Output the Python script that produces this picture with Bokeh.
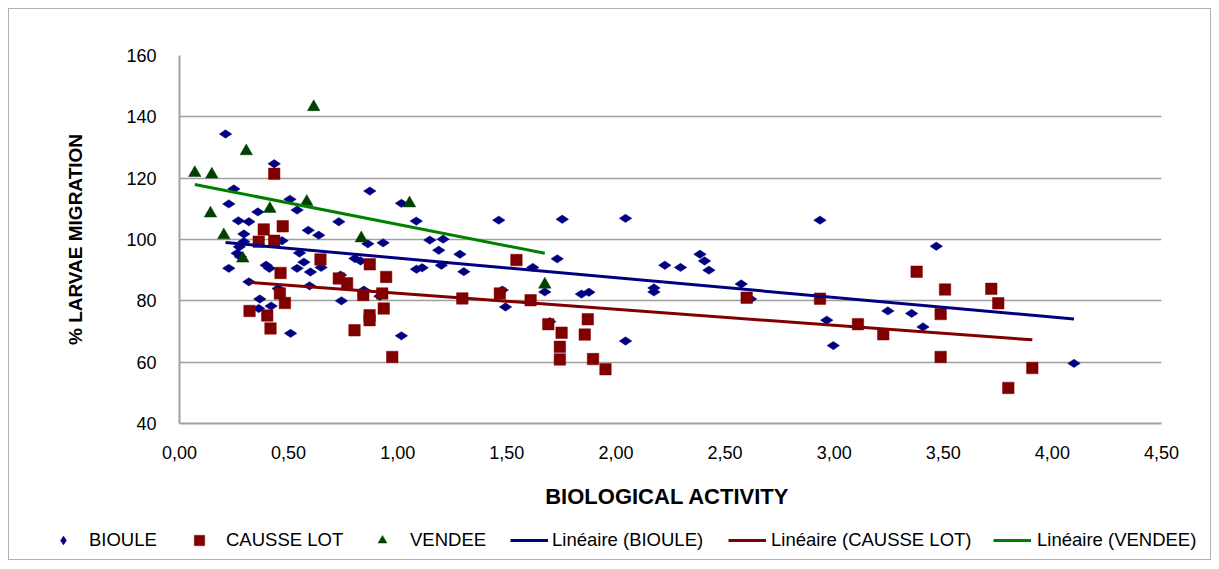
import numpy as np
from bokeh.plotting import figure
from bokeh.models import (ColumnDataSource, FixedTicker, CustomJSTickFormatter,
                          Legend, LegendItem, Range1d)
from bokeh.embed import file_html
from bokeh.resources import INLINE

# ---------------- data ----------------
bioule_x = [0.211, 0.434, 0.249, 0.226, 0.359, 0.506, 0.539, 0.730, 0.270, 0.318,
            0.295, 0.590, 0.638, 0.470, 0.295, 0.274, 0.264, 0.279, 0.226, 0.550,
            0.570, 0.397, 0.412, 0.539, 0.600, 0.649, 0.738, 0.318, 0.596, 0.452,
            0.368, 0.742, 0.363, 0.420, 0.509, 0.872, 1.017, 1.085, 1.463, 0.863,
            0.933, 1.147, 1.208, 1.188, 1.285, 0.804, 0.830, 1.086, 1.112, 1.200,
            1.303, 0.845, 0.918, 1.479, 1.494, 1.017, 1.754, 2.044, 1.619, 1.731,
            1.674, 1.842, 1.876, 2.174, 2.174, 2.224, 2.296, 1.697, 2.044, 2.385,
            2.406, 2.426, 2.574, 2.617, 2.935, 2.966, 2.996, 3.246, 3.355, 3.407,
            3.468, 4.099]
bioule_y = [134.4, 124.7, 116.5, 111.6, 109.0, 113.1, 109.6, 105.8, 106.1, 105.8,
            101.8, 103.0, 101.4, 99.6, 99.3, 97.6, 95.5, 94.4, 90.6, 95.6,
            92.6, 91.6, 90.6, 90.6, 89.4, 90.9, 88.4, 86.2, 84.9, 84.0,
            80.6, 80.0, 77.5, 78.3, 69.4, 115.8, 111.8, 106.0, 106.3, 98.6,
            98.9, 99.8, 100.1, 96.5, 95.2, 93.8, 93.0, 90.3, 90.8, 91.6,
            89.5, 83.5, 81.5, 83.5, 78.0, 68.6, 106.6, 106.9, 90.9, 93.7,
            82.9, 82.2, 82.8, 84.2, 82.9, 91.6, 90.9, 73.2, 66.9, 95.2,
            93.0, 90.0, 85.5, 80.6, 106.3, 73.7, 65.4, 76.7, 75.9, 71.5,
            97.8, 59.6]

causse_x = [0.434, 0.386, 0.473, 0.363, 0.434, 0.646, 0.463, 0.730, 0.768, 0.460,
            0.483, 0.321, 0.402, 0.417, 0.872, 0.947, 1.544, 0.842, 0.929, 1.296,
            1.468, 0.936, 0.871, 0.871, 0.802, 0.975, 1.609, 1.690, 1.751, 1.871,
            1.857, 1.743, 1.743, 1.895, 1.952, 2.599, 2.935, 3.109, 3.225, 3.378,
            3.508, 3.488, 3.488, 3.720, 3.752, 3.908, 3.798]
causse_y = [121.4, 103.3, 104.3, 99.3, 99.6, 93.5, 89.1, 87.3, 85.7, 82.4,
            79.3, 76.7, 75.2, 71.0, 91.9, 87.8, 93.3, 81.9, 82.4, 80.8,
            82.4, 77.5, 75.3, 73.7, 70.4, 61.7, 80.2, 72.4, 69.6, 74.0,
            69.0, 65.0, 60.9, 61.0, 57.7, 81.0, 80.7, 72.4, 69.1, 89.5,
            83.7, 75.7, 61.7, 83.9, 79.2, 58.1, 51.6]

vendee_x = [0.070, 0.148, 0.306, 0.142, 0.203, 0.290, 0.414, 0.583, 0.615, 0.833,
            1.054, 1.674]
vendee_y = [121.7, 121.2, 128.8, 108.5, 101.4, 93.8, 110.0, 112.3, 143.2, 100.4,
            111.8, 85.3]

x_ticks = [0.0, 0.5, 1.0, 1.5, 2.0, 2.5, 3.0, 3.5, 4.0, 4.5]
y_ticks = [40, 60, 80, 100, 120, 140, 160]

FONT = "Liberation Sans"
BLUE, RED, GREEN_M, GREEN_L = "#000080", "#800000", "#004000", "#008000"
GRID = "#a0a0a0"
BORDER = "1px solid #b0b0b0"
W = 1203

p = figure(width=W, height=512, x_range=Range1d(0, 4.5), y_range=Range1d(40, 160),
           output_backend="svg", toolbar_location=None,
           min_border_left=170, min_border_right=51, min_border_top=46,
           min_border_bottom=98)
p.outline_line_color = None
p.background_fill_color = "white"
p.border_fill_color = "white"
p.styles = {"margin-left": "8px", "margin-top": "8px", "border-left": BORDER,
            "border-right": BORDER, "border-top": BORDER}

# axes
p.xaxis.ticker = FixedTicker(ticks=x_ticks)
p.yaxis.ticker = FixedTicker(ticks=y_ticks)
p.xaxis.formatter = CustomJSTickFormatter(code="return tick.toFixed(2).replace('.', ',');")
for ax in (p.xaxis, p.yaxis):
    ax.major_tick_line_color = None
    ax.minor_tick_line_color = None
    ax.axis_line_color = GRID
    ax.axis_line_width = 2
    ax.major_label_text_font = FONT
    ax.major_label_text_font_size = "18px"
    ax.major_label_text_color = "black"
    ax.axis_label_text_font = FONT
    ax.axis_label_text_font_style = "bold"
    ax.axis_label_text_color = "black"
p.xaxis.axis_label = "BIOLOGICAL  ACTIVITY"
p.yaxis.axis_label = "% LARVAE MIGRATION"
p.xaxis.axis_label_text_font_size = "22px"
p.yaxis.axis_label_text_font_size = "19px"
p.xaxis.major_label_standoff = 16
p.yaxis.major_label_standoff = 17
p.xaxis.axis_label_standoff = 22
p.yaxis.axis_label_standoff = 37

p.xgrid.grid_line_color = None
p.ygrid.ticker = FixedTicker(ticks=y_ticks)
p.ygrid.grid_line_color = GRID
p.ygrid.grid_line_width = 1.5

# markers
src_b = ColumnDataSource(dict(x=bioule_x, y=bioule_y))
src_c = ColumnDataSource(dict(x=causse_x, y=causse_y))
src_v = ColumnDataSource(dict(x=vendee_x, y=vendee_y))
mk_b = dict(marker="diamond", size=12.5, angle=np.pi / 2, fill_color=BLUE,
            line_color=BLUE, line_width=0.5)
mk_c = dict(marker="square", size=11.5, fill_color=RED, line_color=RED, line_width=0.5)
mk_v = dict(marker="triangle", size=12.5, fill_color=GREEN_M, line_color=GREEN_M,
            line_width=0.5)
p.scatter("x", "y", source=src_b, **mk_b)
p.scatter("x", "y", source=src_c, **mk_c)
p.scatter("x", "y", source=src_v, **mk_v)

# linear trendlines (least squares, as in the original "Linéaire" fits)
def trend(xs, ys):
    k, b = np.polyfit(xs, ys, 1)
    x0, x1 = min(xs), max(xs)
    return [x0, x1], [k * x0 + b, k * x1 + b]

tbx, tby = trend(bioule_x, bioule_y)
tcx, tcy = trend(causse_x, causse_y)
tvx, tvy = trend(vendee_x, vendee_y)
p.line(tbx, tby, line_color=BLUE, line_width=3)
p.line(tcx, tcy, line_color=RED, line_width=3)
p.line(tvx, tvy, line_color=GREEN_L, line_width=3)

# ---------------- legend strip (its own canvas, below the chart) ----------------
q = figure(width=W, height=40, x_range=Range1d(0, 4.5), y_range=Range1d(1000, 1001),
           output_backend="svg", toolbar_location=None,
           x_axis_location=None, y_axis_location=None, min_border=0)
q.outline_line_color = None
q.grid.visible = False
q.background_fill_color = "white"
q.border_fill_color = "white"
q.styles = {"margin-left": "8px", "border-left": BORDER, "border-right": BORDER,
            "border-bottom": BORDER}
# same series (outside this strip's ranges, so only their legend glyphs show)
qb = q.scatter("x", "y", source=src_b, **mk_b)
qc = q.scatter("x", "y", source=src_c, **mk_c)
qv = q.scatter("x", "y", source=src_v, **mk_v)
ql_b = q.line(tbx, tby, line_color=BLUE, line_width=3)
ql_c = q.line(tcx, tcy, line_color=RED, line_width=3)
ql_v = q.line(tvx, tvy, line_color=GREEN_L, line_width=3)


def add_legend(renderer, label, vx, gw, gh, standoff):
    leg = Legend(items=[LegendItem(label=label, renderers=[renderer])],
                 location=(vx, 20 - gh / 2), orientation="horizontal",
                 glyph_width=gw, glyph_height=gh, label_height=gh,
                 label_standoff=standoff, padding=0, margin=0, spacing=0,
                 border_line_color=None, background_fill_alpha=0,
                 label_text_font=FONT, label_text_font_size="18.5px",
                 label_text_color="black")
    q.add_layout(leg)


add_legend(qb, "BIOULE", 43, 22, 22, 15)
add_legend(qc, "CAUSSE LOT", 177, 26, 26, 14)
add_legend(qv, "VENDEE", 362, 22, 22, 17)
add_legend(ql_b, "Linéaire (BIOULE)", 501, 38, 22, 4)
add_legend(ql_c, "Linéaire (CAUSSE LOT)", 719, 38, 22, 5)
add_legend(ql_v, "Linéaire (VENDEE)", 984, 38, 22, 6)

open("out.html", "w").write(file_html([p, q], INLINE))
